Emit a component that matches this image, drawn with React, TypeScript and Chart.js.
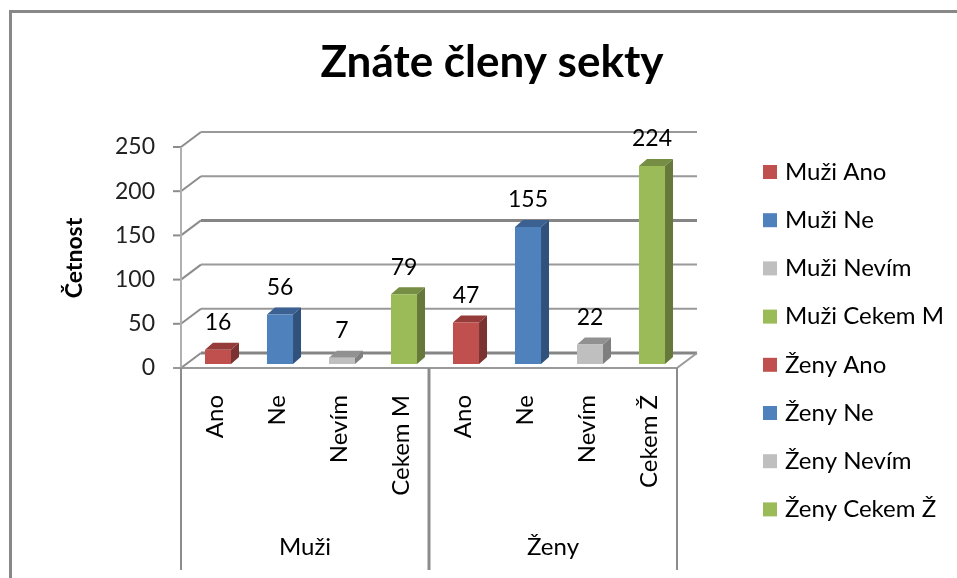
import React, { useEffect, useRef } from "react";
import { Chart, registerables } from "chart.js";

Chart.register(...registerables);

const titleText = "Znáte členy sekty";
const axisTitle = "Četnost";
const categories = ["Ano", "Ne", "Nevím", "Cekem M", "Ano", "Ne", "Nevím", "Cekem Ž"];
const groups = ["Muži", "Ženy"];
const values = [16, 56, 7, 79, 47, 155, 22, 224];
const legendLabels = [
  "Muži Ano", "Muži Ne", "Muži Nevím", "Muži Cekem M",
  "Ženy Ano", "Ženy Ne", "Ženy Nevím", "Ženy Cekem Ž",
];
const frontColors = ["#C0504D", "#4F81BD", "#BFBFBF", "#9BBB59", "#C0504D", "#4F81BD", "#BFBFBF", "#9BBB59"];
const sideColors = ["#7A3331", "#30517C", "#7F7F7F", "#66793A", "#7A3331", "#30517C", "#7F7F7F", "#66793A"];
const topColors = ["#953B39", "#3A6191", "#919191", "#768E43", "#953B39", "#3A6191", "#919191", "#768E43"];

const FONT = "Lato, Carlito, sans-serif";
const LINE = "#8C8C8C";

const scene = {
  id: "scene",
  beforeDatasetsDraw(chart: any) {
    const { ctx, chartArea, scales } = chart;
    const y = scales.y;
    const base = y.getPixelForValue(0);
    const fx = chartArea.left - 6; // front plane of the floor
    const fr = chartArea.right - 6;
    const bx = fx + 20; // back wall
    const br = fr + 20;
    const seg = (a: number, b: number, c: number, d: number, w = 2, col = LINE) => {
      ctx.strokeStyle = col;
      ctx.lineWidth = w;
      ctx.beginPath();
      ctx.moveTo(a, b);
      ctx.lineTo(c, d);
      ctx.stroke();
    };
    ctx.save();
    // frame
    seg(9, 11.5, 957, 11.5, 3, "#888888");
    seg(10.5, 10, 10.5, 578, 3, "#888888");

    // walls
    const ticks = y.ticks.map((t: any) => t.value);
    ticks.forEach((v: number) => {
      const py = y.getPixelForValue(v) + 4;
      seg(fx - 8, py, fx, py, 2);
      seg(fx, py, bx, py - 15, 2);
      seg(bx, py - 15, br, py - 15, v === 0 || v === 150 ? 3 : 2, v === 0 || v === 150 ? "#858585" : "#999999");
    });
    seg(fx, y.getPixelForValue(250) + 4, fx, base + 4, 2, "#B0B0B0");
    // floor
    seg(fx - 8, base + 4, fr, base + 4, 2, "#999999");
    seg(fr, base + 4, br, base - 11, 2, "#999999");
    // category separators
    seg(fx, base + 4, fx, 570, 2);
    seg((fx + fr) / 2, base + 4, (fx + fr) / 2, 570, 3);
    seg(fr, base + 4, fr, 570, 2);

    // 3D faces of the bars
    const DX = 8;
    const DY = 7;
    chart.getDatasetMeta(0).data.forEach((bar: any, i: number) => {
      const { x: cx, y: top, base: bottom, width } = bar.getProps(["x", "y", "base", "width"], true);
      const l = cx - width / 2;
      const r = cx + width / 2;
      ctx.fillStyle = topColors[i];
      ctx.beginPath();
      ctx.moveTo(l, top);
      ctx.lineTo(l + DX, top - DY);
      ctx.lineTo(r + DX, top - DY);
      ctx.lineTo(r, top);
      ctx.closePath();
      ctx.fill();
      ctx.fillStyle = sideColors[i];
      ctx.beginPath();
      ctx.moveTo(r, top);
      ctx.lineTo(r + DX, top - DY);
      ctx.lineTo(r + DX, bottom - DY);
      ctx.lineTo(r, bottom);
      ctx.closePath();
      ctx.fill();
    });
    ctx.restore();
  },
  afterDatasetsDraw(chart: any) {
    const { ctx, chartArea, scales } = chart;
    const y = scales.y;
    const x = scales.x;
    ctx.save();
    ctx.fillStyle = "#000000";
    ctx.textBaseline = "middle";

    // title
    ctx.font = `bold 44px ${FONT}`;
    ctx.textAlign = "center";
    ctx.fillText(titleText, 492, 63);

    // y ticks
    ctx.font = `23px ${FONT}`;
    ctx.textAlign = "right";
    ctx.fillStyle = "#222222";
    y.ticks.forEach((t: any) => {
      ctx.fillText(String(t.value), 155, y.getPixelForValue(t.value) + 4);
    });

    // y axis title
    ctx.save();
    ctx.font = `bold 23px ${FONT}`;
    ctx.textAlign = "center";
    ctx.fillStyle = "#000000";
    ctx.translate(75, 258);
    ctx.rotate(-Math.PI / 2);
    ctx.fillText(axisTitle, 0, 0);
    ctx.restore();

    // value labels
    ctx.font = `23px ${FONT}`;
    ctx.textAlign = "center";
    ctx.fillStyle = "#000000";
    chart.getDatasetMeta(0).data.forEach((bar: any, i: number) => {
      ctx.fillText(String(values[i]), bar.x, bar.y - 27);
    });

    // category labels
    ctx.font = `24px ${FONT}`;
    categories.forEach((c, i) => {
      ctx.save();
      ctx.translate(x.getPixelForTick(i) - 3, 395);
      ctx.rotate(-Math.PI / 2);
      ctx.textAlign = "right";
      ctx.fillText(c, 0, 0);
      ctx.restore();
    });

    // group labels
    const fx = chartArea.left - 6;
    const w = (chartArea.right - chartArea.left) / 2;
    groups.forEach((g, i) => {
      ctx.textAlign = "center";
      ctx.fillText(g, fx + w * (i + 0.5), 547);
    });

    // legend
    ctx.textAlign = "left";
    legendLabels.forEach((l, i) => {
      const py = 172 + i * 48.2;
      ctx.fillStyle = frontColors[i];
      ctx.fillRect(763, py - 7, 14, 14);
      ctx.fillStyle = "#000000";
      ctx.font = `24px ${FONT}`;
      ctx.fillText(l, 785, py);
    });
    ctx.restore();
  },
};

export default function App() {
  const ref = useRef<HTMLCanvasElement>(null);
  useEffect(() => {
    const chart = new Chart(ref.current!, {
      type: "bar",
      data: {
        labels: categories,
        datasets: [
          {
            data: values,
            backgroundColor: frontColors,
            borderWidth: 0,
            barPercentage: 0.42,
            categoryPercentage: 1,
          },
        ],
      },
      options: {
        responsive: false,
        animation: false,
        layout: { padding: { left: 187, right: 274, top: 143, bottom: 214 } },
        plugins: { legend: { display: false }, title: { display: false }, tooltip: { enabled: false } },
        scales: {
          x: { display: false },
          y: { display: false, min: 0, max: 250, ticks: { stepSize: 50 } },
        },
      },
      plugins: [scene],
    });
    return () => chart.destroy();
  }, []);
  return (
    <canvas
      ref={ref}
      width={957}
      height={578}
      style={{ position: "fixed", left: 0, top: 0, display: "block" }}
    />
  );
}
